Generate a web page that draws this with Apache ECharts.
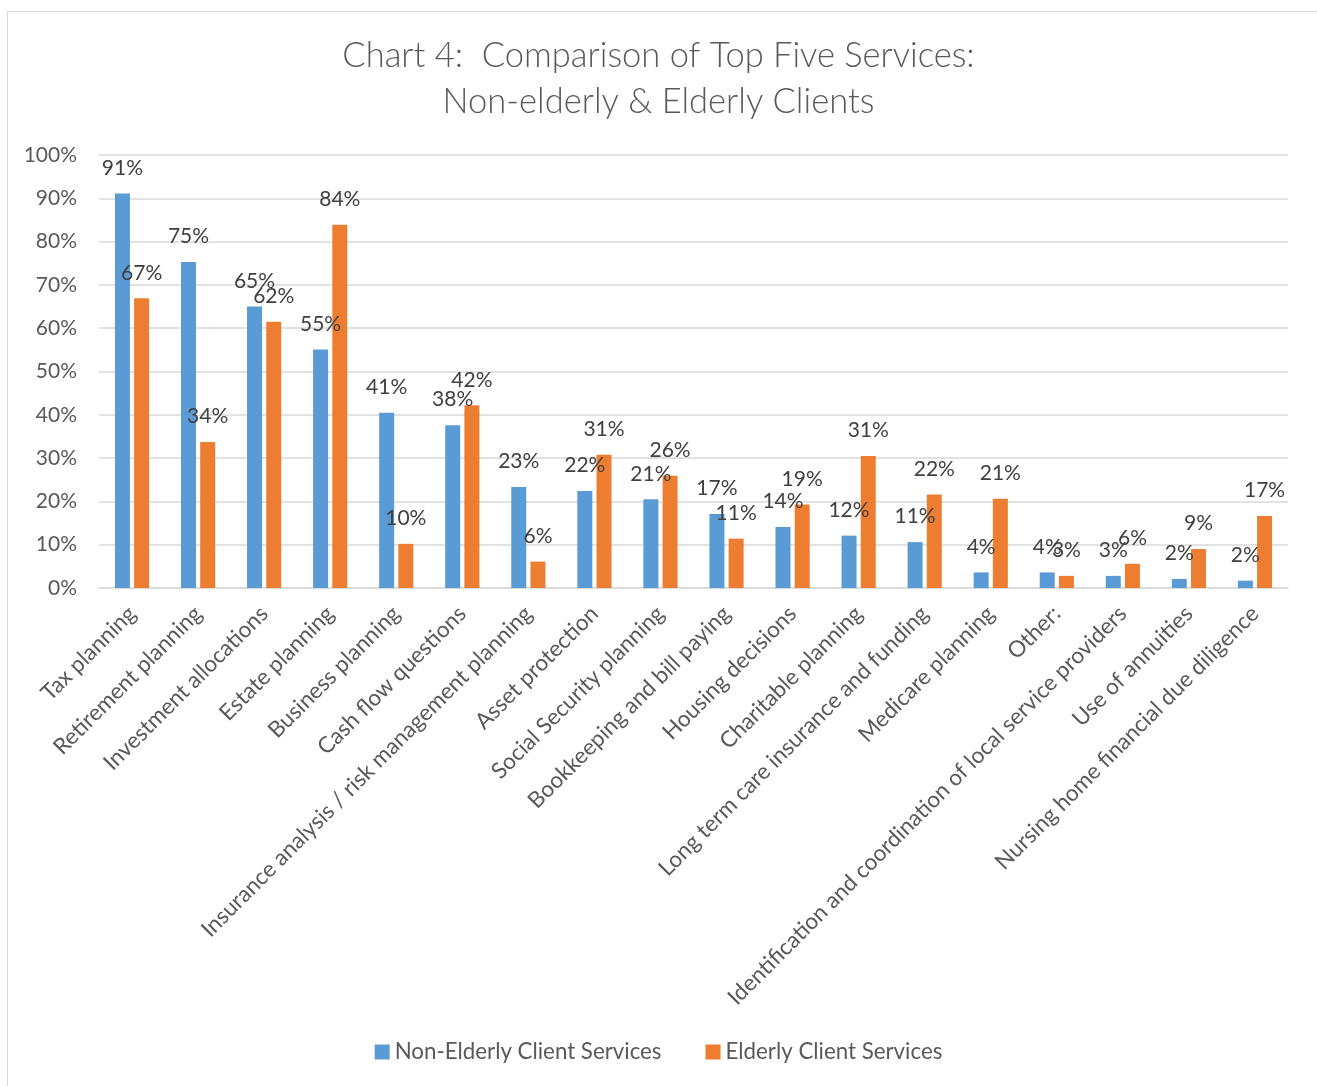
<!DOCTYPE html>
<html>
<head>
<meta charset="utf-8">
<script src="https://cdn.jsdelivr.net/npm/echarts@6/dist/echarts.min.js"></script>
<style>
  html, body { margin: 0; padding: 0; background: #ffffff; }
  #frame { position: absolute; left: 7px; top: 11px; width: 1330px; height: 1090px; border: 1px solid #d9d9d9; box-sizing: border-box; }
  #chart { position: absolute; left: 0; top: 0; width: 1317px; height: 1086px; }
</style>
</head>
<body>
<div id="frame"></div>
<div id="chart"></div>
<script>
// Services offered, as share of respondents (%)
const categories = [
  'Tax planning',
  'Retirement planning',
  'Investment allocations',
  'Estate planning',
  'Business planning',
  'Cash flow questions',
  'Insurance analysis / risk management planning',
  'Asset protection',
  'Social Security planning',
  'Bookkeeping and bill paying',
  'Housing decisions',
  'Charitable planning',
  'Long term care insurance and funding',
  'Medicare planning',
  'Other:',
  'Identification and coordination of local service providers',
  'Use of annuities',
  'Nursing home financial due diligence'
];
const nonElderly = [91.1, 75.3, 65.0, 55.1, 40.5, 37.6, 23.3, 22.4, 20.5, 17.1, 14.1, 12.1, 10.6, 3.6, 3.6, 2.8, 2.1, 1.7];
const elderly    = [66.9, 33.7, 61.5, 83.9, 10.2, 42.2, 6.1, 30.8, 25.9, 11.4, 19.3, 30.5, 21.6, 20.6, 2.8, 5.6, 9.0, 16.6];
const seriesNames = ['Non-Elderly Client Services', 'Elderly Client Services'];
const yTicks = { min: 0, max: 100, step: 10 };

const FONT = 'Lato, "Open Sans", sans-serif';
const GREY = '#595959';

const labelStyle = {
  show: true,
  position: 'top',
  distance: 15,
  color: '#404040',
  fontFamily: FONT,
  fontSize: 21,
  formatter: p => Math.round(p.value) + '%'
};

const chart = echarts.init(document.getElementById('chart'), null, { renderer: 'canvas' });
chart.setOption({
  animation: false,
  backgroundColor: 'transparent',
  title: {
    text: 'Chart 4:  Comparison of Top Five Services:\nNon-elderly & Elderly Clients',
    left: 'center',
    top: 28,
    textStyle: {
      color: GREY,
      fontFamily: FONT,
      fontWeight: 300,
      fontSize: 34.5,
      lineHeight: 46
    }
  },
  legend: {
    bottom: 18,
    left: 'center',
    itemWidth: 15,
    itemHeight: 15,
    itemGap: 44,
    icon: 'rect',
    textStyle: { color: GREY, fontFamily: FONT, fontSize: 22.3 },
    data: seriesNames
  },
  grid: { left: 99, right: 29, top: 155, bottom: 498, containLabel: false },
  xAxis: {
    type: 'category',
    data: categories,
    axisLine: { lineStyle: { color: '#d9d9d9', width: 1.5 } },
    axisTick: { show: false },
    axisLabel: {
      interval: 0,
      rotate: 45,
      margin: 22,
      color: GREY,
      fontFamily: FONT,
      fontSize: 22.5
    }
  },
  yAxis: {
    type: 'value',
    min: yTicks.min,
    max: yTicks.max,
    interval: yTicks.step,
    axisLine: { show: false },
    axisTick: { show: false },
    splitLine: { lineStyle: { color: '#d9d9d9', width: 1.5 } },
    axisLabel: {
      margin: 22,
      color: GREY,
      fontFamily: FONT,
      fontSize: 21,
      formatter: v => v + '%'
    }
  },
  series: [
    {
      name: seriesNames[0],
      type: 'bar',
      data: nonElderly,
      barWidth: 15,
      barGap: '28%',
      itemStyle: { color: '#5b9bd5' },
      label: labelStyle
    },
    {
      name: seriesNames[1],
      type: 'bar',
      data: elderly,
      barWidth: 15,
      barGap: '28%',
      itemStyle: { color: '#ed7d31' },
      label: labelStyle
    }
  ]
});
</script>
</body>
</html>
